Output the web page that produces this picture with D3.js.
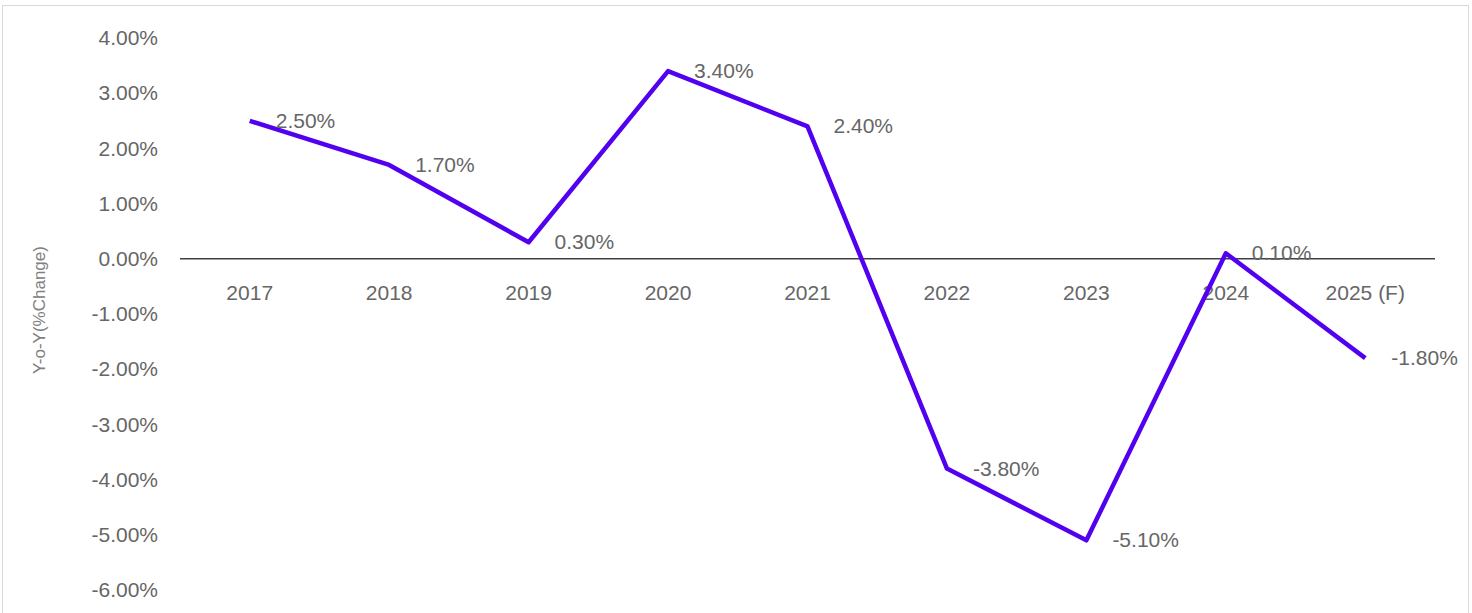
<!DOCTYPE html>
<html>
<head>
<meta charset="utf-8">
<script src="https://cdn.jsdelivr.net/npm/d3@7"></script>
<style>
  body { margin: 0; background: #fff; }
  text { font-family: "Liberation Sans", Arial, sans-serif; }
</style>
</head>
<body>
<div id="chart"></div>
<script>
var years = ["2017", "2018", "2019", "2020", "2021", "2022", "2023", "2024", "2025 (F)"];
var values = [2.5, 1.7, 0.3, 3.4, 2.4, -3.8, -5.1, 0.1, -1.8];
var yTicks = [4, 3, 2, 1, 0, -1, -2, -3, -4, -5, -6];

var width = 1472, height = 613;
var svg = d3.select("#chart").append("svg")
    .attr("width", width)
    .attr("height", height);

svg.append("rect")
   .attr("x", 2.5).attr("y", 5.5)
   .attr("width", width - 6).attr("height", height + 10)
   .attr("fill", "none").attr("stroke", "#d9d9d9");

var x = d3.scaleBand().domain(years).range([180, 1435]);
var y = d3.scaleLinear().domain([-6, 4]).range([590, 38]);

// y axis labels
svg.append("g")
   .attr("transform", "translate(158,0)")
   .call(d3.axisLeft(y).tickValues(yTicks).tickSize(0).tickPadding(0)
         .tickFormat(function(d){ return d.toFixed(2) + "%"; }))
   .call(function(g){ g.select(".domain").remove(); })
   .selectAll("text")
   .attr("fill", "#666666")
   .style("font-size", "21px");

// zero line
svg.append("line")
   .attr("x1", 180).attr("x2", 1435)
   .attr("y1", y(0)).attr("y2", y(0))
   .attr("stroke", "#404040").attr("stroke-width", 1.5);

// x labels
svg.append("g")
   .selectAll("text")
   .data(years)
   .enter().append("text")
   .attr("x", function(d){ return x(d) + x.bandwidth() / 2; })
   .attr("y", 300)
   .attr("text-anchor", "middle")
   .attr("fill", "#666666")
   .style("font-size", "21px")
   .text(function(d){ return d; });

// y title
svg.append("text")
   .attr("transform", "translate(45," + 310 + ") rotate(-90)")
   .attr("text-anchor", "middle")
   .attr("fill", "#808080")
   .style("font-size", "17px")
   .text("Y-o-Y(%Change)");

var line = d3.line()
   .x(function(d, i){ return x(years[i]) + x.bandwidth() / 2; })
   .y(function(d){ return y(d); });

svg.append("path")
   .datum(values)
   .attr("d", line)
   .attr("fill", "none")
   .attr("stroke", "#5200f0")
   .attr("stroke-width", 4.5)
   .attr("stroke-linejoin", "round");

svg.append("g")
   .selectAll("text")
   .data(values)
   .enter().append("text")
   .attr("x", function(d, i){ return x(years[i]) + x.bandwidth() / 2 + 26; })
   .attr("y", function(d){ return y(d) + 7; })
   .attr("fill", "#666666")
   .style("font-size", "21px")
   .text(function(d){ return d.toFixed(2) + "%"; });
</script>
</body>
</html>
